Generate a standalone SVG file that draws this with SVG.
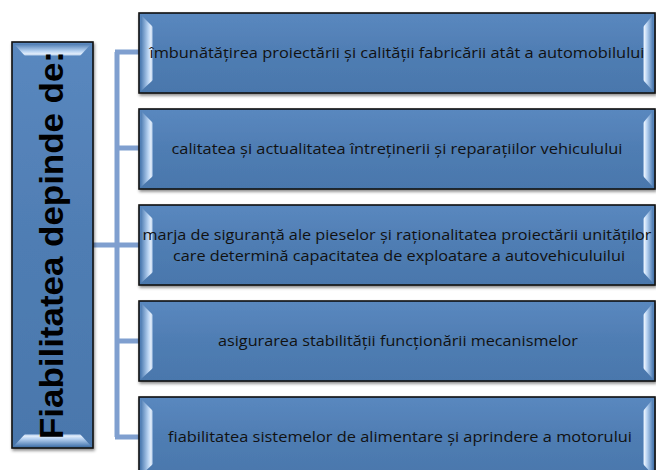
<svg xmlns="http://www.w3.org/2000/svg" width="656" height="470" viewBox="0 0 656 470">
<defs>
<linearGradient id="fillG" x1="0" y1="0" x2="0" y2="1">
<stop offset="0" stop-color="#5a88bf"/>
<stop offset="0.5" stop-color="#4f7db3"/>
<stop offset="1" stop-color="#4a77ac"/>
</linearGradient>
<linearGradient id="bevL" x1="0" y1="0" x2="1" y2="0">
<stop offset="0" stop-color="#4f7db3"/>
<stop offset="0.6" stop-color="#b8d3f2"/>
<stop offset="0.85" stop-color="#e6f0fc"/>
<stop offset="1" stop-color="#6692c6"/>
</linearGradient>
<linearGradient id="bevR" x1="1" y1="0" x2="0" y2="0">
<stop offset="0" stop-color="#4f7db3"/>
<stop offset="0.6" stop-color="#b8d3f2"/>
<stop offset="0.85" stop-color="#e6f0fc"/>
<stop offset="1" stop-color="#6692c6"/>
</linearGradient>
<linearGradient id="bevTop" x1="0" y1="0" x2="0" y2="1">
<stop offset="0" stop-color="#4f7db3"/>
<stop offset="0.6" stop-color="#b8d3f2"/>
<stop offset="0.85" stop-color="#e6f0fc"/>
<stop offset="1" stop-color="#6692c6"/>
</linearGradient>
<linearGradient id="bevBot" x1="0" y1="1" x2="0" y2="0">
<stop offset="0" stop-color="#4f7db3"/>
<stop offset="0.6" stop-color="#b8d3f2"/>
<stop offset="0.85" stop-color="#e6f0fc"/>
<stop offset="1" stop-color="#6692c6"/>
</linearGradient>
<filter id="sh" x="-5%" y="-5%" width="110%" height="115%">
<feDropShadow dx="1" dy="2" stdDeviation="1.5" flood-color="#000" flood-opacity="0.45"/>
</filter>
</defs>
<style>
.box{fill:url(#fillG);stroke:#111;stroke-width:1.6}
.t{font-family:"Open Sans","Liberation Sans",Arial,sans-serif;font-size:15px;fill:#111;text-anchor:middle}
.conn{stroke:#7f9fcf;stroke-width:5;fill:none}
</style>
<g id="connectors">
<path class="conn" d="M93 245 H117 M117 52 V437 M115 52 H139 M115 148 H139 M115 245 H139 M115 341 H139 M115 437 H139"/>
</g>
<g id="root">
<rect class="box" x="12" y="42" width="81" height="406" filter="url(#sh)"/>
<polygon points="14,44 91,44 80,56 25,56" fill="url(#bevTop)"/>
<polygon points="14,446 91,446 80,434 25,434" fill="url(#bevBot)"/>
<text x="0" y="0" transform="translate(63,245) rotate(-90)" font-family="Liberation Sans,Arial,sans-serif" font-weight="bold" font-size="33" text-anchor="middle" textLength="388" lengthAdjust="spacingAndGlyphs" fill="#000">Fiabilitatea depinde de:</text>
</g>
<g id="n1">
<rect class="box" x="139" y="13" width="516" height="80" filter="url(#sh)"/>
<polygon points="141,15 153,27 153,80 141,91" fill="url(#bevL)"/>
<polygon points="653,15 643,27 643,80 653,91" fill="url(#bevR)"/>
<text class="t" x="397" y="58" textLength="495" lengthAdjust="spacingAndGlyphs">îmbunătățirea proiectării și calității fabricării atât a automobilului</text>
</g>
<g id="n2">
<rect class="box" x="139" y="109" width="516" height="80" filter="url(#sh)"/>
<polygon points="141,111 153,123 153,176 141,187" fill="url(#bevL)"/>
<polygon points="653,111 643,123 643,176 653,187" fill="url(#bevR)"/>
<text class="t" x="397" y="154" textLength="451" lengthAdjust="spacingAndGlyphs">calitatea și actualitatea întreținerii și reparațiilor vehiculului</text>
</g>
<g id="n3">
<rect class="box" x="139" y="205" width="516" height="80" filter="url(#sh)"/>
<polygon points="141,207 153,219 153,272 141,283" fill="url(#bevL)"/>
<polygon points="653,207 643,219 643,272 653,283" fill="url(#bevR)"/>
<text class="t" x="397" y="240" textLength="509" lengthAdjust="spacingAndGlyphs">marja de siguranță ale pieselor și raționalitatea proiectării unităților</text>
<text class="t" x="399" y="261" textLength="452" lengthAdjust="spacingAndGlyphs">care determină capacitatea de exploatare a autovehiculuilui</text>
</g>
<g id="n4">
<rect class="box" x="139" y="301" width="516" height="80" filter="url(#sh)"/>
<polygon points="141,303 153,315 153,368 141,379" fill="url(#bevL)"/>
<polygon points="653,303 643,315 643,368 653,379" fill="url(#bevR)"/>
<text class="t" x="398" y="346" textLength="360" lengthAdjust="spacingAndGlyphs">asigurarea stabilității funcționării mecanismelor</text>
</g>
<g id="n5">
<rect class="box" x="139" y="397" width="516" height="80" filter="url(#sh)"/>
<polygon points="141,399 153,411 153,464 141,475" fill="url(#bevL)"/>
<polygon points="653,399 643,411 643,464 653,475" fill="url(#bevR)"/>
<text class="t" x="400" y="442" textLength="464" lengthAdjust="spacingAndGlyphs">fiabilitatea sistemelor de alimentare  și aprindere a motorului</text>
</g>
</svg>
